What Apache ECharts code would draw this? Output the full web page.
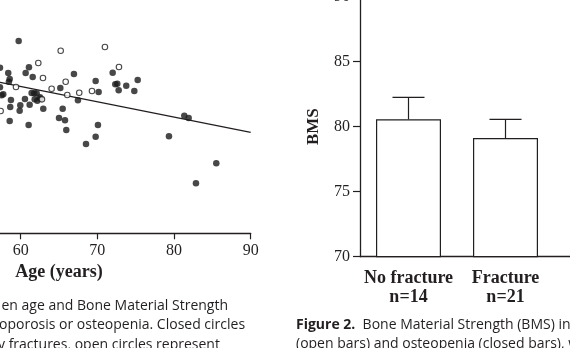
<!DOCTYPE html>
<html>
<head>
<meta charset="utf-8">
<script src="https://cdn.jsdelivr.net/npm/echarts@6/dist/echarts.min.js"></script>
<style>
  html, body { margin: 0; padding: 0; background: #fff; overflow: hidden; width: 570px; height: 348px; }
  #chart { position: absolute; left: -200px; top: -20px; width: 1000px; height: 390px; }
</style>
</head>
<body>
<div id="chart"></div>
<script>
// Left panel: BMS against age, [age, BMS]
const fractureClosed = [
  [59.74, 92.97], [57.3, 88.39], [58.38, 87.48], [61.08, 88.46], [60.65, 87.48],
  [61.57, 86.8], [58.57, 86.45], [58.47, 85.99], [66.95, 87.31], [69.78, 86.11],
  [72.0, 87.53], [72.34, 85.54], [72.6, 85.65], [73.77, 85.3], [75.26, 86.28],
  [72.78, 84.52], [74.82, 84.4], [70.17, 84.22], [65.17, 84.91], [57.3, 85.03],
  [57.52, 83.66], [57.73, 83.83], [61.43, 84.05], [61.77, 84.0], [62.09, 84.0],
  [58.73, 82.85], [60.56, 83.02], [61.83, 82.97], [62.17, 82.73], [62.52, 83.32],
  [62.61, 83.08], [67.47, 82.8], [58.64, 81.65], [59.95, 81.94], [61.17, 82.05],
  [59.87, 81.02], [62.95, 81.36], [65.48, 81.36], [65.0, 79.77], [65.78, 79.37],
  [58.57, 79.25], [61.04, 78.57], [70.08, 78.57], [65.95, 77.71], [69.78, 76.56],
  [68.52, 75.31], [79.34, 76.63], [81.34, 80.16], [81.91, 79.77], [85.51, 72.0],
  [82.86, 68.57]
];
const fractureOpen = [
  [65.22, 91.3], [70.99, 91.94], [62.3, 89.2], [72.82, 88.51], [62.91, 86.62],
  [65.87, 85.99], [59.39, 85.08], [64.04, 84.79], [69.3, 84.4], [67.64, 84.1],
  [66.08, 83.71], [62.78, 82.97], [57.39, 80.97]
];
const fitLine = [[40, 90.42], [90, 77.32]];
const ageTicks = [40, 50, 60, 70, 80, 90];

// Right panel: mean BMS with upper error
const groups = ['No fracture\nn=14', 'Fracture\nn=21', '', ''];
const bmsMean = [80.57, 79.13, null, null];
const bmsUpper = [82.26, 80.57, null, null];

const captionLeft = [
  'en age and Bone Material Strength',
  'oporosis or osteopenia. Closed circles',
  'y fractures, open circles represent'
];
const captionRight = [
  ['Figure 2.', '  Bone Material Strength (BMS) in'],
  ['', '(open bars) and osteopenia (closed bars), w']
];

const ink = '#231f20';
const serif = '"Liberation Serif", "DejaVu Serif", serif';
const sans = '"Open Sans", "Noto Sans", sans-serif';

// the drawing surface is larger than the window and shifted by this offset
const OX = 200, OY = 20;

const chart = echarts.init(document.getElementById('chart'), null, { renderer: 'canvas' });

const errorData = groups.map((g, i) => [i, bmsMean[i], bmsUpper[i]]).filter(d => d[1] != null);

chart.setOption({
  animation: false,
  backgroundColor: '#fff',
  grid: [
    { left: OX - 132.7, top: OY, width: 383.4, height: 233.3 },
    { left: OX + 360, top: OY - 3.3, width: 388, height: 260 }
  ],
  xAxis: [
    {
      gridIndex: 0, type: 'value', min: ageTicks[0], max: ageTicks[ageTicks.length - 1], interval: 10,
      name: 'Age (years)', nameLocation: 'middle', nameGap: 29,
      nameTextStyle: { fontFamily: serif, fontWeight: 'bold', fontSize: 18, color: ink },
      axisLine: { show: true, onZero: false, lineStyle: { color: ink, width: 1.3 } },
      axisTick: { show: true, length: 6, lineStyle: { color: ink, width: 1.2 } },
      axisLabel: { fontFamily: serif, fontSize: 16, color: ink, margin: 9 },
      splitLine: { show: false }
    },
    {
      gridIndex: 1, type: 'category', data: groups,
      axisLine: { show: true, lineStyle: { color: ink, width: 1.3 } },
      axisTick: { show: false },
      axisLabel: { fontFamily: serif, fontWeight: 'bold', fontSize: 18, color: ink, margin: 12, lineHeight: 19, interval: 0 },
      splitLine: { show: false }
    }
  ],
  yAxis: [
    {
      gridIndex: 0, type: 'value', min: 60, max: 100, interval: 10,
      axisLine: { show: true, lineStyle: { color: ink } },
      axisTick: { show: true }, axisLabel: { show: true, color: ink },
      splitLine: { show: false }
    },
    {
      gridIndex: 1, type: 'value', min: 70, max: 90, interval: 5,
      name: 'BMS', nameLocation: 'middle', nameGap: 38, nameRotate: 90,
      nameTextStyle: { fontFamily: serif, fontWeight: 'bold', fontSize: 17, color: ink },
      axisLine: { show: true, lineStyle: { color: ink, width: 1.3 } },
      axisTick: { show: true, length: 7, lineStyle: { color: ink, width: 1.2 } },
      axisLabel: { fontFamily: serif, fontSize: 16, color: ink, margin: 10 },
      splitLine: { show: false }
    }
  ],
  series: [
    {
      type: 'line', xAxisIndex: 0, yAxisIndex: 0, data: fitLine,
      symbol: 'none', lineStyle: { color: ink, width: 1.3 }, z: 1
    },
    {
      type: 'scatter', xAxisIndex: 0, yAxisIndex: 0, data: fractureClosed,
      symbol: 'circle', symbolSize: 6.5, itemStyle: { color: '#1a1a1a' }, z: 3
    },
    {
      type: 'scatter', xAxisIndex: 0, yAxisIndex: 0, data: fractureOpen,
      symbol: 'circle', symbolSize: 5.5,
      itemStyle: { color: '#fff', borderColor: '#1a1a1a', borderWidth: 1.1 }, z: 3
    },
    {
      type: 'bar', xAxisIndex: 1, yAxisIndex: 1, data: bmsMean, barWidth: 65,
      itemStyle: { color: '#fff', borderColor: ink, borderWidth: 1.2 }, z: 2
    },
    {
      type: 'custom', xAxisIndex: 1, yAxisIndex: 1, data: errorData, z: 3,
      renderItem: function (params, api) {
        const base = api.coord([api.value(0), api.value(1)]);
        const top = api.coord([api.value(0), api.value(2)]);
        const half = 16;
        return {
          type: 'group',
          children: [
            { type: 'line', shape: { x1: base[0], y1: base[1], x2: top[0], y2: top[1] }, style: { stroke: ink, lineWidth: 1.2 } },
            { type: 'line', shape: { x1: top[0] - half, y1: top[1], x2: top[0] + half, y2: top[1] }, style: { stroke: ink, lineWidth: 1.2 } }
          ]
        };
      }
    }
  ],
  graphic: [
    ...captionLeft.map((t, i) => ({
      type: 'text', left: OX + [1.5, -1, -2][i], top: OY + 299 + i * 19.5,
      style: { text: t, font: '14px ' + sans, fill: ink }
    })),
    ...captionRight.map((parts, i) => ({
      type: 'text', left: OX + 296, top: OY + 318 + i * 19,
      style: {
        text: (parts[0] ? '{b|' + parts[0] + '}' : '') + '{r|' + parts[1] + '}',
        rich: {
          b: { font: 'bold 14px ' + sans, fill: ink },
          r: { font: '14px ' + sans, fill: ink }
        }
      }
    }))
  ]
});
</script>
</body>
</html>
